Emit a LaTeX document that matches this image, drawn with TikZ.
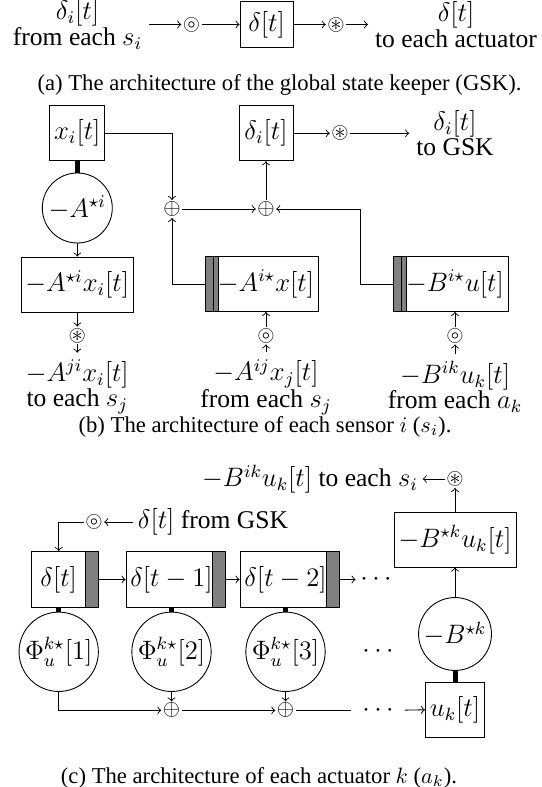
\documentclass[tikz,border=0pt]{standalone}
\usepackage{amssymb}
\usepackage[no-math]{fontspec}
\setmainfont{Liberation Serif}

\begin{document}
\begin{tikzpicture}[x=0.45pt, y=-0.45pt, font=\fontsize{11.5}{10}\selectfont]
\tikzstyle{every node} = [inner sep=2pt]
\tikzstyle{box} = [draw, rectangle, minimum height=24.75pt]
\tikzstyle{bar} = [draw, rectangle, fill=gray, minimum width=5.85pt, minimum height=24.75pt]
\tikzstyle{op} = [draw, circle, inner sep=1pt]
\tikzstyle{sym} = [inner sep=0.5pt, font=\fontsize{10}{10}\selectfont]
\tikzstyle{lbl} = [align=center, inner sep=3pt]
\tikzstyle{captext} = [font=\fontsize{10.2}{12}\selectfont]
\tikzstyle{edge} = [draw, ->]
\tikzstyle{link} = [draw, line width=2.25pt]
\useasboundingbox (0,0) rectangle (541,787);
% (a) global state keeper
\node[lbl] (gskin) at (77.5, 24.5) {$\delta_i[t]$\\[-0.5pt]from each $s_i$};
\node[sym] (gskrecv) at (191.5, 24.5) {$\circledcirc$};
\node[box, minimum width=23.85pt, minimum height=20.7pt] (gskbox) at (266.5, 24.5) {$\delta[t]$};
\node[sym] (gsksend) at (336, 24.5) {$\circledast$};
\node[lbl] (gskout) at (456, 24.5) {$\delta[t]$\\[-0.5pt]to each actuator};
\node[captext] (capa) at (279.5, 84.5) {(a) The architecture of the global state keeper (GSK).};
\draw[edge] (gskin) -- (gskrecv);
\draw[edge] (gskrecv) -- (gskbox);
\draw[edge] (gskbox) -- (gsksend);
\draw[edge] (gsksend) -- (gskout);
% (b) sensor i
\node[box, minimum width=23.85pt] (xi) at (77.3, 133.3) {$x_i[t]$};
\node[op, minimum size=31.5pt] (Ai) at (77.3, 208) {$-A^{\star i}$};
\node[box, minimum width=46.35pt] (Axi) at (77.3, 284.5) {$-A^{\star i}x_i[t]$};
\node[sym] (Asend) at (77.3, 335.5) {$\circledast$};
\node[lbl] (Aout) at (77.3, 387) {$-A^{ji}x_i[t]$\\[-0.5pt]to each $s_j$};
\node[sym] (sum1) at (172, 209) {$\oplus$};
\node[sym] (sum2) at (266, 209) {$\oplus$};
\node[box, minimum width=24.3pt] (di) at (266, 133.3) {$\delta_i[t]$};
\node[sym] (disend) at (340, 133.3) {$\circledast$};
\node[lbl] (diout) at (455, 133.3) {$\delta_i[t]$\\[-0.5pt]to GSK};
\node[bar] (xjbar) at (211.5, 284) {};
\node[box, minimum width=43.2pt] (xj) at (266, 284) {$-A^{i\star}x[t]$};
\node[sym] (xjrecv) at (266, 335.5) {$\circledcirc$};
\node[lbl] (xjin) at (266, 387) {$-A^{ij}x_j[t]$\\[-0.5pt]from each $s_j$};
\node[bar] (ubar) at (399.5, 284) {};
\node[box, minimum width=44.1pt] (u) at (455, 284) {$-B^{i\star}u[t]$};
\node[sym] (urecv) at (455, 335.5) {$\circledcirc$};
\node[lbl] (uin) at (455, 387) {$-B^{ik}u_k[t]$\\[-0.5pt]from each $a_k$};
\coordinate (ubend) at (360, 209);
\node[captext] (capb) at (265, 426.5) {(b) The architecture of each sensor $i$ ($s_i$).};
\draw[link] (xi) -- (Ai);
\draw[edge] (Ai) -- (Axi);
\draw[edge] (Axi) -- (Asend);
\draw[edge] (Asend) -- (Aout);
\draw[edge] (xi) -| (sum1);
\draw[edge] (xjbar) -| (sum1);
\draw[edge] (sum1) -- (sum2);
\draw[edge] (sum2) -- (di);
\draw[edge] (ubar) -| (ubend) -- (sum2);
\draw[edge] (di) -- (disend);
\draw[edge] (disend) -- (diout);
\draw[edge] (xjin) -- (xjrecv);
\draw[edge] (xjrecv) -- (xj);
\draw[edge] (uin) -- (urecv);
\draw[edge] (urecv) -- (u);
% (c) actuator k
\node[box, minimum width=24.3pt, minimum height=25.2pt] (d0) at (58.7, 579.5) {$\delta[t]$};
\node[bar, minimum height=25.2pt] (d0bar) at (92.1, 579.5) {};
\node[box, minimum width=36.45pt, minimum height=25.2pt] (d1) at (171.5, 579.5) {$\delta[t-1]$};
\node[bar, minimum height=25.2pt] (d1bar) at (218.5, 579.5) {};
\node[box, minimum width=36.45pt, minimum height=25.2pt] (d2) at (285.5, 579.5) {$\delta[t-2]$};
\node[bar, minimum height=25.2pt] (d2bar) at (332.5, 579.5) {};
\node (cdots1) at (376, 579.5) {$\cdots$};
\node[op, minimum size=35.7pt] (phi1) at (58.7, 651.8) {$\Phi_u^{k\star}[1]$};
\node[op, minimum size=35.7pt] (phi2) at (171.5, 651.8) {$\Phi_u^{k\star}[2]$};
\node[op, minimum size=35.7pt] (phi3) at (285.5, 651.8) {$\Phi_u^{k\star}[3]$};
\node (cdots2) at (378, 651.8) {$\cdots$};
\node[sym] (csum1) at (171.5, 710.4) {$\oplus$};
\node[sym] (csum2) at (285.5, 710.4) {$\oplus$};
\node[inner sep=5pt] (cdots3) at (378, 710.4) {$\cdots$};
\node[box, minimum width=25.2pt] (uk) at (455, 709.5) {$u_k[t]$};
\node[op, minimum size=32.4pt] (Bk) at (455, 634) {$-B^{\star k}$};
\node[box, minimum width=50.4pt] (Bku) at (455, 539.5) {$-B^{\star k}u_k[t]$};
\node[sym] (ksend) at (455, 479) {$\circledast$};
\node (kout) at (310, 479) {$-B^{ik}u_k[t]$ to each $s_i$};
\node[sym] (krecv) at (94, 522) {$\circledcirc$};
\node (kin) at (213, 522) {$\delta[t]$ from GSK};
\node[captext] (capc) at (259, 777.7) {(c) The architecture of each actuator $k$ ($a_k$).};
\draw[edge] (kin) -- (krecv);
\draw[edge] (krecv) -| (d0);
\draw[edge] (d0bar) -- (d1);
\draw[edge] (d1bar) -- (d2);
\draw[edge] (d2bar) -- (cdots1);
\draw[link] (d0) -- (phi1);
\draw[link] (d1) -- (phi2);
\draw[link] (d2) -- (phi3);
\draw[edge] (phi1) |- (csum1);
\draw[edge] (phi2) -- (csum1);
\draw[edge] (csum1) -- (csum2);
\draw[edge] (phi3) -- (csum2);
\draw (csum2) -- (cdots3);
\draw[edge] (cdots3) -- (uk);
\draw[link] (uk) -- (Bk);
\draw[edge] (Bk) -- (Bku);
\draw[edge] (Bku) -- (ksend);
\draw[edge] (ksend) -- (kout);
\end{tikzpicture}
\end{document}
